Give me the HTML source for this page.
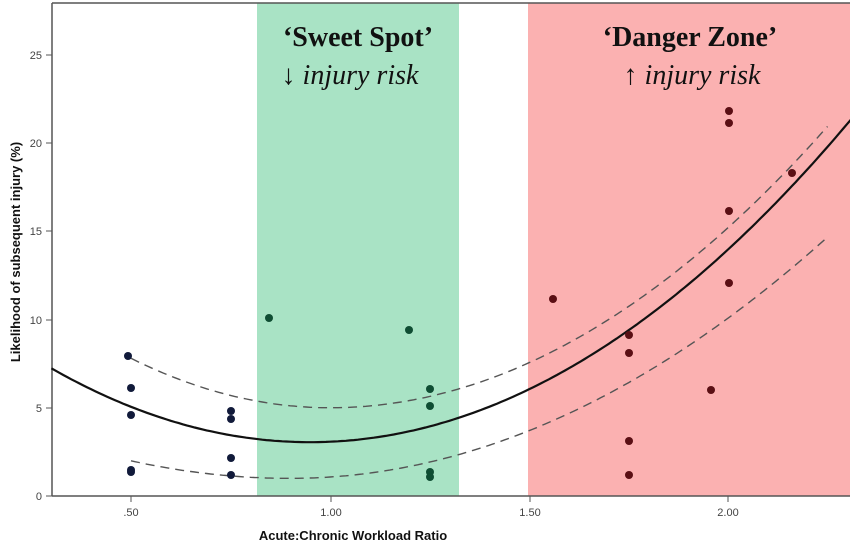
<!DOCTYPE html>
<html><head><meta charset="utf-8"><style>
body{margin:0;background:#fff;width:850px;height:544px;overflow:hidden}
svg{display:block}
</style></head><body>
<svg id="s" width="850" height="544" xmlns="http://www.w3.org/2000/svg">
<rect x="257" y="3" width="202" height="493" fill="#a9e3c5"/>
<rect x="528" y="3" width="322" height="493" fill="#fbb1b1"/>
<line x1="52" y1="3" x2="850" y2="3" stroke="#555" stroke-width="1.5"/>
<line x1="52" y1="3" x2="52" y2="496" stroke="#555" stroke-width="1.5"/>
<line x1="52" y1="496" x2="850" y2="496" stroke="#555" stroke-width="1.5"/>
<g font-family="Liberation Sans, sans-serif" font-size="11" fill="#444" text-anchor="end">
<text x="42" y="500">0</text><text x="42" y="412">5</text><text x="42" y="324">10</text>
<text x="42" y="235">15</text><text x="42" y="147">20</text><text x="42" y="59">25</text>
</g>
<g stroke="#555" stroke-width="1">
<line x1="46" y1="496" x2="52" y2="496"/><line x1="46" y1="408" x2="52" y2="408"/><line x1="46" y1="320" x2="52" y2="320"/>
<line x1="46" y1="231" x2="52" y2="231"/><line x1="46" y1="143" x2="52" y2="143"/><line x1="46" y1="55" x2="52" y2="55"/>
<line x1="131" y1="496" x2="131" y2="502"/><line x1="331" y1="496" x2="331" y2="502"/><line x1="530" y1="496" x2="530" y2="502"/><line x1="728" y1="496" x2="728" y2="502"/>
</g>
<g font-family="Liberation Sans, sans-serif" font-size="11" fill="#444" text-anchor="middle">
<text x="131" y="516">.50</text><text x="331" y="516">1.00</text><text x="530" y="516">1.50</text><text x="728" y="516">2.00</text>
</g>
<text x="353" y="540" font-family="Liberation Sans, sans-serif" font-size="13" font-weight="bold" fill="#111" text-anchor="middle">Acute:Chronic Workload Ratio</text>
<text transform="translate(20,252) rotate(-90)" font-family="Liberation Sans, sans-serif" font-size="13" font-weight="bold" fill="#111" text-anchor="middle">Likelihood of subsequent injury (%)</text>
<g font-family="Liberation Serif, serif" font-size="28" fill="#111" text-anchor="middle">
<text x="358" y="46" font-weight="bold">‘Sweet Spot’</text>
<text x="350" y="84"><tspan>↓ </tspan><tspan font-style="italic">injury risk</tspan></text>
<text x="690" y="46" font-weight="bold">‘Danger Zone’</text>
<text x="692" y="84"><tspan>↑ </tspan><tspan font-style="italic">injury risk</tspan></text>
</g>
<path id="fit" fill="none" stroke="#111" stroke-width="2.2"/>
<path id="up" fill="none" stroke="#555" stroke-width="1.4" stroke-dasharray="9,6"/>
<path id="lo" fill="none" stroke="#555" stroke-width="1.4" stroke-dasharray="9,6"/>
<g id="pts"></g>
</svg>
<script>
function X(v){return 131+(v-0.5)*398;}
function Y(v){return 496-v*17.65;}
function path(f,a,b){var d="";for(var v=a;v<=b+1e-9;v+=0.01){d+=(d?"L":"M")+X(v).toFixed(1)+","+Y(f(v)).toFixed(1);}return d;}
document.getElementById("fit").setAttribute("d",path(function(x){return 9.9*(x-0.95)*(x-0.95)+3.05;},0.30,2.31));
document.getElementById("up").setAttribute("d",path(function(x){return x<1.0?5.0+11.2*(x-1.0)*(x-1.0):5.0+10.2*(x-1.0)*(x-1.0);},0.5,2.25));
document.getElementById("lo").setAttribute("d",path(function(x){return x<0.9?1.0+6.2*(x-0.9)*(x-0.9):1.0+7.5*(x-0.9)*(x-0.9);},0.5,2.25));
var P=[[128,356],[131,388],[131,415],[131,470],[131,472],[231,411],[231,419],[231,458],[231,475],[269,318],[409,330],[430,389],[430,406],[430,472],[430,477],[553,299],[629,335],[629,353],[629,441],[629,475],[711,390],[729,111],[729,123],[729,211],[729,283],[792,173]];
var g=document.getElementById("pts"),h="";
P.forEach(function(p){var c=p[0]<257?"#111a3a":(p[0]<470?"#0f4d33":"#5a0f14");h+='<circle cx="'+p[0]+'" cy="'+p[1]+'" r="4" fill="'+c+'"/>';});
g.innerHTML=h;
</script>
</body></html>
